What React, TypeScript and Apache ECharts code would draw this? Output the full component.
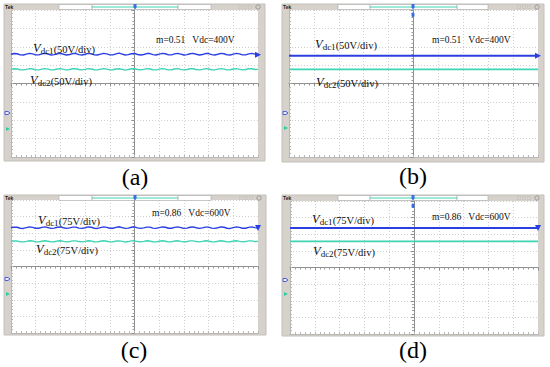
import React, { useEffect, useRef } from "react";
import * as echarts from "echarts";

// Tick values (divisions of the scope screen)
const xDivs = [-5, 5];
const yDivs = [-4, 4];

const captions = ["(a)", "(b)", "(c)", "(d)"];
const scaleTexts = ["50V/div", "50V/div", "75V/div", "75V/div"];
const modTexts = ["m=0.51   Vdc=400V", "m=0.51   Vdc=400V", "m=0.86   Vdc=600V", "m=0.86   Vdc=600V"];

// Trace levels in screen divisions
const vdc1A = [
  1.59, 1.63, 1.62, 1.56, 1.55, 1.6, 1.64, 1.61, 1.56, 1.56, 1.61, 1.64, 1.6, 1.55, 1.57, 1.62, 1.64, 1.59, 1.55, 1.58,
  1.63, 1.63, 1.57, 1.55, 1.59, 1.64, 1.62, 1.56, 1.55, 1.6, 1.64, 1.61, 1.56, 1.56, 1.61, 1.65, 1.6, 1.55, 1.57, 1.62,
  1.64, 1.58, 1.55, 1.58, 1.63, 1.63, 1.57, 1.55, 1.6, 1.64, 1.62, 1.56, 1.56, 1.61, 1.64, 1.6, 1.55, 1.57, 1.62, 1.64,
  1.59, 1.55, 1.58, 1.63, 1.63, 1.57, 1.55, 1.59, 1.64, 1.62, 1.56, 1.55, 1.6, 1.64, 1.61, 1.56, 1.56, 1.61, 1.64, 1.6, 1.57,
];
const vdc2A = [
  0.77, 0.8, 0.79, 0.75, 0.74, 0.77, 0.81, 0.79, 0.75, 0.74, 0.78, 0.81, 0.78, 0.74, 0.75, 0.79, 0.81, 0.77, 0.74, 0.76,
  0.8, 0.8, 0.76, 0.74, 0.77, 0.81, 0.79, 0.75, 0.74, 0.78, 0.81, 0.78, 0.74, 0.75, 0.79, 0.8, 0.77, 0.73, 0.76, 0.8,
  0.8, 0.76, 0.74, 0.77, 0.81, 0.79, 0.75, 0.74, 0.78, 0.81, 0.78, 0.74, 0.75, 0.79, 0.81, 0.77, 0.74, 0.76, 0.8, 0.8,
  0.76, 0.74, 0.77, 0.81, 0.79, 0.75, 0.74, 0.78, 0.81, 0.78, 0.74, 0.75, 0.79, 0.81, 0.77, 0.74, 0.76, 0.8, 0.8, 0.76, 0.77,
];
const vdc1B = [1.51, 1.51];
const vdc2B = [0.77, 0.77];
const vdc1C = [
  2.33, 2.37, 2.36, 2.3, 2.29, 2.34, 2.38, 2.35, 2.3, 2.3, 2.35, 2.38, 2.34, 2.29, 2.31, 2.36, 2.38, 2.33, 2.29, 2.32,
  2.37, 2.37, 2.31, 2.29, 2.33, 2.38, 2.36, 2.3, 2.29, 2.34, 2.38, 2.35, 2.3, 2.3, 2.35, 2.39, 2.34, 2.29, 2.31, 2.36,
  2.38, 2.32, 2.29, 2.32, 2.37, 2.37, 2.31, 2.29, 2.34, 2.38, 2.36, 2.3, 2.3, 2.35, 2.38, 2.34, 2.29, 2.31, 2.36, 2.38,
  2.33, 2.29, 2.32, 2.37, 2.37, 2.31, 2.29, 2.33, 2.38, 2.36, 2.3, 2.29, 2.34, 2.38, 2.35, 2.3, 2.3, 2.35, 2.38, 2.34, 2.31,
];
const vdc2C = [
  1.51, 1.54, 1.53, 1.49, 1.48, 1.51, 1.55, 1.53, 1.49, 1.48, 1.52, 1.55, 1.52, 1.48, 1.49, 1.53, 1.55, 1.51, 1.48, 1.5,
  1.54, 1.54, 1.5, 1.48, 1.51, 1.55, 1.53, 1.49, 1.48, 1.52, 1.55, 1.52, 1.48, 1.49, 1.53, 1.54, 1.51, 1.47, 1.5, 1.54,
  1.54, 1.5, 1.48, 1.51, 1.55, 1.53, 1.49, 1.48, 1.52, 1.55, 1.52, 1.48, 1.49, 1.53, 1.55, 1.51, 1.48, 1.5, 1.54, 1.54,
  1.5, 1.48, 1.51, 1.55, 1.53, 1.49, 1.48, 1.52, 1.55, 1.52, 1.48, 1.49, 1.53, 1.55, 1.51, 1.48, 1.5, 1.54, 1.54, 1.5, 1.51,
];
const vdc1D = [2.37, 2.37];
const vdc2D = [1.57, 1.57];

const vdc1 = [vdc1A, vdc1B, vdc1C, vdc1D];
const vdc2 = [vdc2A, vdc2B, vdc2C, vdc2D];

const BLUE = "#2b3fe0";
const CYAN = "#40d4b4";
const FRAME = "#d6d2cb";
const SERIF = "'Liberation Serif', 'Times New Roman', serif";

// Layout of the four scope screens (pixels)
const layouts = [
  { frame: [4, 4, 261, 157], plot: [11, 10, 247, 147], bar: [59, 211], cyan: [92, 178], mid: 135, gnd: [113, 129], l1: [33, 48], l2: [30, 80], m: [156, 40], cap: [135, 177], dn: false, extraT: false },
  { frame: [282, 4, 262, 158], plot: [289, 10, 249, 147], bar: [338, 488], cyan: [370, 457], mid: 413, gnd: [113, 128], l1: [315, 44], l2: [316, 82], m: [432, 40], cap: [413, 176], dn: false, extraT: true },
  { frame: [4, 195, 262, 140], plot: [11, 200, 247, 133], bar: [59, 211], cyan: [92, 178], mid: 135, gnd: [279, 294], l1: [38, 220], l2: [36, 249], m: [152, 213], cap: [134, 350], dn: true, extraT: false },
  { frame: [282, 195, 262, 141], plot: [290, 201, 248, 133], bar: [338, 488], cyan: [370, 457], mid: 413, gnd: [280, 294], l1: [312, 219], l2: [313, 251], m: [432, 217], cap: [413, 350], dn: true, extraT: true },
];

function toPoints(vals: number[], dn: boolean, withArrow: boolean) {
  const n = vals.length;
  return vals.map((v, i) => {
    const x = xDivs[0] + ((xDivs[1] - xDivs[0]) * i) / (n - 1);
    if (withArrow && i === n - 1) {
      return { value: [x, v], symbol: "triangle", symbolSize: [6, 6], symbolRotate: dn ? 180 : -90 };
    }
    return [x, v];
  });
}

export default function App() {
  const ref = useRef<HTMLDivElement>(null);
  useEffect(() => {
    if (!ref.current) return;
    const chart = echarts.init(ref.current, undefined, { renderer: "svg" });
    const grids: any[] = [];
    const xAxes: any[] = [];
    const yAxes: any[] = [];
    const series: any[] = [];
    const graphics: any[] = [];

    layouts.forEach((L, p) => {
      const [px, py, pw, ph] = L.plot;
      grids.push({ left: px, top: py, width: pw, height: ph, containLabel: false });
      const cx = xAxes.length;
      const cy = yAxes.length;
      // center axes (with grid split lines)
      xAxes.push({
        type: "value", gridIndex: p, min: xDivs[0], max: xDivs[1], interval: 1, position: "top",
        axisLine: { onZero: true, onZeroAxisIndex: cy, lineStyle: { color: "#8f8f8f", width: 1 } },
        axisTick: { show: true, inside: true, length: 3, lineStyle: { color: "#8f8f8f" } },
        minorTick: { show: true, splitNumber: 5, length: 2, lineStyle: { color: "#9a9a9a" } },
        axisLabel: { show: false },
        splitLine: { show: true, lineStyle: { color: "#cfcfcf", type: [1, 2], width: 1 } },
      });
      xAxes.push({
        type: "value", gridIndex: p, min: xDivs[0], max: xDivs[1], interval: 0.2, position: "bottom",
        axisLine: { onZero: false, lineStyle: { color: "#b8b8b8", width: 1 } },
        axisTick: { show: true, inside: true, length: 2, lineStyle: { color: "#b8b8b8" } },
        axisLabel: { show: false }, splitLine: { show: false },
      });
      yAxes.push({
        type: "value", gridIndex: p, min: yDivs[0], max: yDivs[1], interval: 1, position: "right",
        axisLine: { onZero: true, onZeroAxisIndex: cx, lineStyle: { color: "#8f8f8f", width: 1 } },
        axisTick: { show: true, inside: true, length: 3, lineStyle: { color: "#8f8f8f" } },
        minorTick: { show: true, splitNumber: 5, length: 2, lineStyle: { color: "#9a9a9a" } },
        axisLabel: { show: false },
        splitLine: { show: true, lineStyle: { color: "#cfcfcf", type: [1, 2], width: 1 } },
      });
      yAxes.push({
        type: "value", gridIndex: p, min: yDivs[0], max: yDivs[1], interval: 0.2, position: "left",
        axisLine: { onZero: false, lineStyle: { color: "#b8b8b8", width: 1 } },
        axisTick: { show: true, inside: true, length: 2, lineStyle: { color: "#b8b8b8" } },
        axisLabel: { show: false }, splitLine: { show: false },
      });
      const flat = vdc1[p].length < 5;
      series.push({
        type: "line", name: "Vdc2", xAxisIndex: cx, yAxisIndex: cy, symbol: "none", z: 5,
        data: toPoints(vdc2[p], L.dn, false),
        lineStyle: { color: CYAN, width: flat ? 1.6 : 1.4 }, itemStyle: { color: CYAN },
      });
      series.push({
        type: "line", name: "Vdc1", xAxisIndex: cx, yAxisIndex: cy, symbol: "none", z: 6,
        data: toPoints(vdc1[p], L.dn, true),
        lineStyle: { color: BLUE, width: flat ? 2 : 1.4 }, itemStyle: { color: BLUE },
      });

      const [fx, fy, fw, fh] = L.frame;
      graphics.push({ type: "rect", z: -2, shape: { x: fx, y: fy, width: fw, height: fh }, style: { fill: FRAME, stroke: "#c4c0b9", lineWidth: 1 } });
      graphics.push({ type: "rect", z: -1, shape: { x: px, y: py, width: pw, height: ph }, style: { fill: "#ffffff" } });
      graphics.push({ type: "text", z: 10, x: fx + 1, y: fy + 3, style: { text: "Tek", fontSize: 5, fontWeight: "bold", fill: "#222", fontFamily: "Arial", verticalAlign: "middle" } });
      // top record bar
      graphics.push({ type: "rect", z: 10, shape: { x: L.bar[0], y: fy + 0.5, width: L.bar[1] - L.bar[0], height: 5 }, style: { fill: "#ffffff", stroke: "#a8a8a8", lineWidth: 0.6 } });
      graphics.push({ type: "line", z: 11, shape: { x1: L.cyan[0], y1: fy + 3, x2: L.cyan[1], y2: fy + 3 }, style: { stroke: CYAN, lineWidth: 1.2 } });
      graphics.push({ type: "line", z: 11, shape: { x1: L.cyan[0], y1: fy + 1, x2: L.cyan[0], y2: fy + 5 }, style: { stroke: "#888", lineWidth: 0.6 } });
      graphics.push({ type: "line", z: 11, shape: { x1: L.cyan[1], y1: fy + 1, x2: L.cyan[1], y2: fy + 5 }, style: { stroke: "#888", lineWidth: 0.6 } });
      graphics.push({ type: "polygon", z: 12, shape: { points: [[L.mid - 1.5, fy], [L.mid + 1.5, fy], [L.mid + 1.5, fy + 3.5], [L.mid, fy + 5.5], [L.mid - 1.5, fy + 3.5]] }, style: { fill: "#3a6fe0" } });
      if (L.extraT) {
        graphics.push({ type: "rect", z: 12, shape: { x: L.mid - 1.5, y: py + 2.5, width: 3, height: 4.5, r: 1.2 }, style: { fill: "#3a6fe0" } });
      }
      // menu icons on the right of the top strip
      const ix = fx + fw - 7;
      graphics.push({ type: "circle", z: 10, shape: { cx: ix, cy: fy + 3, r: 2.2 }, style: { fill: "none", stroke: "#777", lineWidth: 0.6 } });
      [18, 13, 8].forEach((d) => {
        graphics.push({ type: "rect", z: 10, shape: { x: ix - d - 1.5, y: fy + 1.5, width: 3, height: 3 }, style: { fill: "none", stroke: "#c4c0ba", lineWidth: 0.6 } });
      });
      // ground markers
      const gx = fx + 1;
      graphics.push({ type: "polygon", z: 10, shape: { points: [[gx, L.gnd[0] - 1.5], [gx + 3, L.gnd[0] - 1.5], [gx + 5, L.gnd[0]], [gx + 3, L.gnd[0] + 1.5], [gx, L.gnd[0] + 1.5]] }, style: { fill: "#e8ecff", stroke: BLUE, lineWidth: 0.8 } });
      graphics.push({ type: "polygon", z: 10, shape: { points: [[gx + 1, L.gnd[1] - 2], [gx + 5, L.gnd[1]], [gx + 1, L.gnd[1] + 2]] }, style: { fill: "#2ccf9f" } });
      // labels
      const rich = {
        v: { fontFamily: SERIF, fontStyle: "italic", fontSize: 12.5, fill: "#111", verticalAlign: "bottom" },
        s: { fontFamily: SERIF, fontSize: 9, fill: "#111", verticalAlign: "bottom", padding: [0, 0, -1, 0] },
        n: { fontFamily: SERIF, fontSize: 10.5, fill: "#111", verticalAlign: "bottom" },
      };
      graphics.push({ type: "text", z: 10, x: L.l1[0], y: L.l1[1], style: { text: `{v|V}{s|dc1}{n|(${scaleTexts[p]})}`, rich, verticalAlign: "middle" } });
      graphics.push({ type: "text", z: 10, x: L.l2[0], y: L.l2[1], style: { text: `{v|V}{s|dc2}{n|(${scaleTexts[p]})}`, rich, verticalAlign: "middle" } });
      graphics.push({ type: "text", z: 10, x: L.m[0], y: L.m[1], style: { text: modTexts[p], fontFamily: SERIF, fontSize: 9.5, fill: "#111", verticalAlign: "middle" } });
      graphics.push({ type: "text", z: 10, x: L.cap[0], y: L.cap[1], style: { text: captions[p], fontFamily: SERIF, fontSize: 24, fill: "#000", align: "center", verticalAlign: "middle" } });
    });

    chart.setOption({
      animation: false,
      backgroundColor: "#ffffff",
      grid: grids,
      xAxis: xAxes,
      yAxis: yAxes,
      series,
      graphic: { elements: graphics },
    });
    return () => chart.dispose();
  }, []);
  return <div ref={ref} style={{ position: "absolute", left: 0, top: 0, width: 550, height: 367 }} />;
}
